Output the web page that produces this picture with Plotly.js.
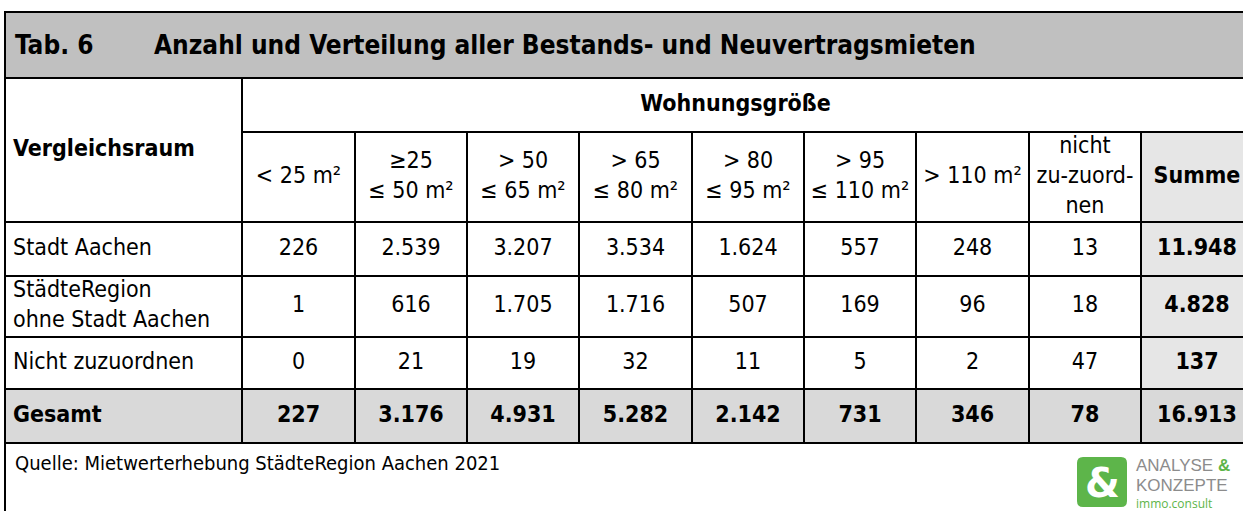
<!DOCTYPE html>
<html>
<head>
<meta charset="utf-8">
<script src="https://cdn.plot.ly/plotly-3.0.1.min.js"></script>
<style>
  html, body { margin: 0; padding: 0; background: #fff; }
  #chart { width: 1243px; height: 511px; }
</style>
</head>
<body>
<div id="chart"></div>
<script>
// ---------- data ----------
const tableNo = "Tab. 6";
const tableTitle = "Anzahl und Verteilung aller Bestands- und Neuvertragsmieten";
const groupLabel = "Wohnungsgröße";
const stubLabel = "Vergleichsraum";
const sizeClasses = ["< 25 m²", "≥25<br>≤ 50 m²", "> 50<br>≤ 65 m²", "> 65<br>≤ 80 m²",
                     "> 80<br>≤ 95 m²", "> 95<br>≤ 110 m²", "> 110 m²", "nicht<br>zu-zuord-<br>nen"];
const sumLabel = "Summe";
const regionNames = ["Stadt Aachen", "StädteRegion<br>ohne Stadt Aachen", "Nicht zuzuordnen"];
const totalLabel = "Gesamt";
const stadtAachen     = [226, 2539, 3207, 3534, 1624, 557, 248, 13];
const staedteRegion   = [1, 616, 1705, 1716, 507, 169, 96, 18];
const nichtZuzuordnen = [0, 21, 19, 32, 11, 5, 2, 47];
const rowSums = [11948, 4828, 137];
const gesamt = [227, 3176, 4931, 5282, 2142, 731, 346, 78];
const gesamtSumme = 16913;
const sourceNote = "Quelle: Mietwerterhebung StädteRegion Aachen 2021";
const logoLines = ["ANALYSE", "&", "KONZEPTE", "immo.consult"];

// ---------- layout geometry (pixels) ----------
const W = 1243, H = 511;
const COL = [5, 242, 355, 467, 579, 692, 804, 916, 1029, 1141, 1253];
const Y_TOP = 12, Y_TITLE = 78, Y_HEAD1 = 132, Y_HEAD2 = 222;
const Y_ROWS = [222, 276, 337, 389];
const Y_TOTAL = [389, 443];
const Y_BOTTOM = 530;

const FONT = "'DejaVu Sans Condensed', 'DejaVu Sans', Verdana, sans-serif";
const FS = 23;       // body text size
const FS_TITLE = 26;
const FS_NOTE = 20;
const BLACK = "#000000";
const GREEN = "#5db54a";
const GREY = "#8c8c8c";

function fmt(n) {
  const s = String(Math.abs(n));
  let out = "";
  for (let i = 0; i < s.length; i++) {
    if (i > 0 && (s.length - i) % 3 === 0) out += ".";
    out += s[i];
  }
  return (n < 0 ? "-" : "") + out;
}
const colCenter = i => (COL[i] + COL[i + 1]) / 2;   // i = 0 stub, 1..8 classes, 9 sum
const mid = (a, b) => (a + b) / 2;

// ---------- text cells via a scatter text trace ----------
const tx = [], ty = [], tt = [];
function cell(x, y, text, bold) {
  tx.push(x); ty.push(y); tt.push(bold ? "<b>" + text + "</b>" : text);
}
sizeClasses.forEach((c, i) => cell(colCenter(i + 1), mid(Y_HEAD1, Y_HEAD2), c, false));
cell(colCenter(9), mid(Y_HEAD1, Y_HEAD2), sumLabel, true);
cell(mid(COL[1], COL[10]) - 12, mid(Y_TITLE, Y_HEAD1), groupLabel, true);
const bodyRows = [stadtAachen, staedteRegion, nichtZuzuordnen];
bodyRows.forEach((vals, r) => {
  const yc = mid(Y_ROWS[r], Y_ROWS[r + 1]);
  vals.forEach((v, i) => cell(colCenter(i + 1), yc, fmt(v), false));
  cell(colCenter(9), yc, fmt(rowSums[r]), true);
});
gesamt.forEach((v, i) => cell(colCenter(i + 1), mid(Y_TOTAL[0], Y_TOTAL[1]), fmt(v), true));
cell(colCenter(9), mid(Y_TOTAL[0], Y_TOTAL[1]), fmt(gesamtSumme), true);

const valueTrace = {
  type: "scatter", mode: "text", x: tx, y: ty, text: tt,
  textposition: "middle center",
  textfont: { family: FONT, size: FS, color: BLACK },
  hoverinfo: "skip", showlegend: false, cliponaxis: false
};

// left-aligned stub labels
const sx = [], sy = [], st = [];
const STUB_X = 13;
sx.push(STUB_X); sy.push(mid(Y_TITLE, Y_HEAD2)); st.push("<b>" + stubLabel + "</b>");
regionNames.forEach((n, r) => { sx.push(STUB_X); sy.push(mid(Y_ROWS[r], Y_ROWS[r + 1])); st.push(n); });
sx.push(STUB_X); sy.push(mid(Y_TOTAL[0], Y_TOTAL[1])); st.push("<b>" + totalLabel + "</b>");
const stubTrace = {
  type: "scatter", mode: "text", x: sx, y: sy, text: st,
  textposition: "middle right",
  textfont: { family: FONT, size: FS, color: BLACK },
  hoverinfo: "skip", showlegend: false, cliponaxis: false
};

// ---------- shapes ----------
const shapes = [];
function rect(x0, y0, x1, y1, fill) {
  shapes.push({ type: "rect", xref: "x", yref: "y", x0, y0, x1, y1, fillcolor: fill,
                line: { width: 0 }, layer: "below" });
}
function hline(y, x0, x1) {
  shapes.push({ type: "line", xref: "x", yref: "y", x0, x1, y0: y, y1: y,
                line: { color: BLACK, width: 2 }, layer: "above" });
}
function vline(x, y0, y1) {
  shapes.push({ type: "line", xref: "x", yref: "y", x0: x, x1: x, y0, y1,
                line: { color: BLACK, width: 2 }, layer: "above" });
}
rect(COL[0], Y_TOP, COL[10], Y_TITLE, "#c0c0c0");
rect(COL[9], Y_HEAD1, COL[10], Y_TOTAL[0], "#e6e6e6");
rect(COL[0], Y_TOTAL[0], COL[10], Y_TOTAL[1], "#d9d9d9");

hline(Y_TOP, COL[0] - 1, COL[10]);
hline(Y_TITLE, COL[0], COL[10]);
hline(Y_HEAD1, COL[1], COL[10]);
[Y_HEAD2, Y_ROWS[1], Y_ROWS[2], Y_ROWS[3], Y_TOTAL[1]].forEach(y => hline(y, COL[0], COL[10]));
vline(COL[0], Y_TOP, Y_BOTTOM);
vline(COL[1], Y_TITLE, Y_TOTAL[1]);
for (let i = 2; i <= 9; i++) vline(COL[i], Y_HEAD1, Y_TOTAL[1]);

// logo box
const LG = { x0: 1077, y0: 457, x1: 1127, y1: 507, r: 6 };
shapes.push({
  type: "path", xref: "x", yref: "y", layer: "below",
  path: `M ${LG.x0 + LG.r} ${LG.y0} L ${LG.x1 - LG.r} ${LG.y0} Q ${LG.x1} ${LG.y0} ${LG.x1} ${LG.y0 + LG.r}` +
        ` L ${LG.x1} ${LG.y1 - LG.r} Q ${LG.x1} ${LG.y1} ${LG.x1 - LG.r} ${LG.y1}` +
        ` L ${LG.x0 + LG.r} ${LG.y1} Q ${LG.x0} ${LG.y1} ${LG.x0} ${LG.y1 - LG.r}` +
        ` L ${LG.x0} ${LG.y0 + LG.r} Q ${LG.x0} ${LG.y0} ${LG.x0 + LG.r} ${LG.y0} Z`,
  fillcolor: GREEN, line: { width: 0 }
});

// ---------- annotations ----------
const LOGO_FONT = "'Liberation Sans', Arial, sans-serif";
const annotations = [
  { x: 13, y: mid(Y_TOP, Y_TITLE), xref: "x", yref: "y", text: "<b>" + tableNo + "</b>",
    xanchor: "left", yanchor: "middle", showarrow: false, font: { family: FONT, size: FS_TITLE, color: BLACK } },
  { x: 152, y: mid(Y_TOP, Y_TITLE), xref: "x", yref: "y", text: "<b>" + tableTitle + "</b>",
    xanchor: "left", yanchor: "middle", showarrow: false, font: { family: FONT, size: FS_TITLE, color: BLACK } },
  { x: 13, y: 463, xref: "x", yref: "y", text: sourceNote,
    xanchor: "left", yanchor: "middle", showarrow: false, font: { family: FONT, size: FS_NOTE, color: BLACK } },
  { x: mid(LG.x0, LG.x1), y: mid(LG.y0, LG.y1) + 1, xref: "x", yref: "y", text: "<b>" + logoLines[1] + "</b>",
    xanchor: "center", yanchor: "middle", showarrow: false,
    font: { family: "'DejaVu Sans', sans-serif", size: 40, color: "#ffffff" } },
  { x: 1134, y: 465, xref: "x", yref: "y",
    text: logoLines[0] + " <span style='color:" + GREEN + "'><b>" + logoLines[1] + "</b></span>",
    xanchor: "left", yanchor: "middle", showarrow: false,
    font: { family: LOGO_FONT, size: 17, color: GREY } },
  { x: 1134, y: 485, xref: "x", yref: "y", text: logoLines[2],
    xanchor: "left", yanchor: "middle", showarrow: false,
    font: { family: LOGO_FONT, size: 17, color: GREY } },
  { x: 1134, y: 503.5, xref: "x", yref: "y", text: logoLines[3],
    xanchor: "left", yanchor: "middle", showarrow: false,
    font: { family: "'Open Sans', sans-serif", size: 12, color: GREEN } }
];

const layout = {
  width: W, height: H,
  margin: { l: 0, r: 0, t: 0, b: 0, pad: 0 },
  paper_bgcolor: "#ffffff", plot_bgcolor: "#ffffff",
  xaxis: { range: [0, W], visible: false, fixedrange: true },
  yaxis: { range: [H, 0], visible: false, fixedrange: true },
  shapes, annotations, showlegend: false
};

Plotly.newPlot("chart", [valueTrace, stubTrace], layout, { staticPlot: true, displayModeBar: false });
</script>
</body>
</html>
